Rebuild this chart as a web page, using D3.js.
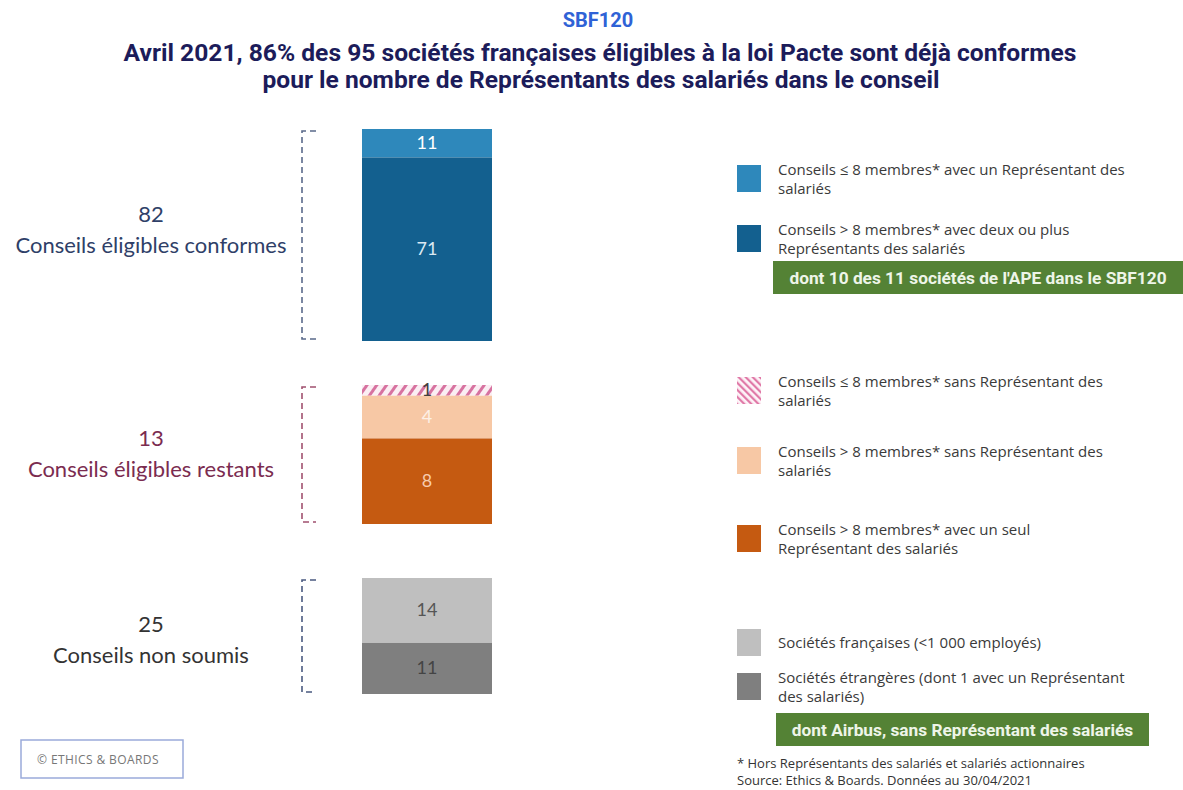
<!DOCTYPE html>
<html lang="fr">
<head>
<meta charset="utf-8">
<script src="https://cdn.jsdelivr.net/npm/d3@7"></script>
<style>
  body { margin: 0; background: #fff; }
  svg { display: block; }
</style>
</head>
<body>
<svg id="chart"></svg>
<script>
// ---- data ----
var groupTotals = [82, 13, 25];
var groupNames = ["Conseils éligibles conformes", "Conseils éligibles restants", "Conseils non soumis"];
var segValues = [[11, 71], [1, 4, 8], [14, 11]];
var segKeys = [["petitAvec", "grandDeux"], ["petitSans", "grandSans", "grandUn"], ["francaises", "etrangeres"]];
var legendKeys = ["petitAvec", "grandDeux", "petitSans", "grandSans", "grandUn", "francaises", "etrangeres"];
var legendLabels = [
  ["Conseils \u2264 8 membres* avec un Représentant des", "salariés"],
  ["Conseils > 8 membres* avec deux ou plus", "Représentants des salariés"],
  ["Conseils \u2264 8 membres* sans Représentant des", "salariés"],
  ["Conseils > 8 membres* sans Représentant des", "salariés"],
  ["Conseils > 8 membres* avec un seul", "Représentant des salariés"],
  ["Sociétés françaises (<1 000 employés)"],
  ["Sociétés étrangères (dont 1 avec un Représentant", "des salariés)"]
];
var notes = ["dont 10 des 11 sociétés de l'APE dans le SBF120", "dont Airbus, sans Représentant des salariés"];

// ---- styles ----
var width = 1183, height = 790;
var colors = {
  petitAvec: "#2e88bb", grandDeux: "#13608f",
  petitSans: "url(#hatchBar)", grandSans: "#f7c8a5", grandUn: "#c55a11",
  francaises: "#bfbfbf", etrangeres: "#7f7f7f"
};
var valueColors = {
  petitAvec: "#ffffff", grandDeux: "#dbe9f3",
  petitSans: "#404040", grandSans: "#fdf0e6", grandUn: "#f8cbad",
  francaises: "#555555", etrangeres: "#444444"
};
var groupColors = ["#2f3f68", "#7b2c50", "#333333"];
var bracketColors = ["#5a6a8a", "#a0506f", "#4a5a80"];

// vertical extent of each bar block on the page
var groupTop = [129, 385, 578];
var groupBottom = [341, 524, 694];
// legend row tops
var legendTop = [165, 225, 377, 447, 525, 629, 673];

var svg = d3.select("#chart").attr("width", width).attr("height", height)
  .style("font-family", "Roboto, 'Liberation Sans', sans-serif");

var defs = svg.append("defs");
var hb = defs.append("pattern").attr("id", "hatchBar")
  .attr("patternUnits", "userSpaceOnUse").attr("width", 8).attr("height", 8)
  .attr("patternTransform", "rotate(35)");
hb.append("rect").attr("width", 8).attr("height", 8).attr("fill", "#fbeef3");
hb.append("rect").attr("width", 3).attr("height", 8).attr("fill", "#d772a0");
var hl = defs.append("pattern").attr("id", "hatchLeg")
  .attr("patternUnits", "userSpaceOnUse").attr("width", 5).attr("height", 5)
  .attr("patternTransform", "rotate(-45)");
hl.append("rect").attr("width", 5).attr("height", 5).attr("fill", "#fdf3f7");
hl.append("rect").attr("width", 2.2).attr("height", 5).attr("fill", "#e07aa8");

// title
svg.append("text").attr("x", 598).attr("y", 27).attr("text-anchor", "middle")
  .attr("font-size", 20).attr("font-weight", 700).attr("fill", "#2f62d6").text("SBF120");
svg.append("text").attr("x", 600).attr("y", 61).attr("text-anchor", "middle")
  .attr("font-size", 23).attr("font-weight", 700).attr("fill", "#1c1c5a")
  .attr("textLength", 953).attr("lengthAdjust", "spacingAndGlyphs")
  .text("Avril 2021, 86% des 95 sociétés françaises éligibles à la loi Pacte sont déjà conformes");
svg.append("text").attr("x", 601).attr("y", 88).attr("text-anchor", "middle")
  .attr("font-size", 23).attr("font-weight", 700).attr("fill", "#1c1c5a")
  .attr("textLength", 677).attr("lengthAdjust", "spacingAndGlyphs")
  .text("pour le nombre de Représentants des salariés dans le conseil");

// bars
var xBand = d3.scaleBand().domain(["bar"]).range([362, 492]);

groupTotals.forEach(function(total, gi) {
  var y = d3.scaleLinear().domain([0, total]).range([groupTop[gi], groupBottom[gi]]);
  var stackData = [];
  var acc = 0;
  segValues[gi].forEach(function(v, si) {
    stackData.push({ key: segKeys[gi][si], v: v, y0: acc, y1: acc + v });
    acc += v;
  });
  var g = svg.append("g");
  g.selectAll("rect").data(stackData).enter().append("rect")
    .attr("x", xBand("bar")).attr("width", xBand.bandwidth())
    .attr("y", function(d) { return y(d.y0); })
    .attr("height", function(d) { return y(d.y1) - y(d.y0); })
    .attr("fill", function(d) { return colors[d.key]; });
  g.selectAll("text").data(stackData).enter().append("text")
    .attr("x", xBand("bar") + xBand.bandwidth() / 2)
    .attr("y", function(d) { return (y(d.y0) + y(d.y1)) / 2 + 6; })
    .attr("text-anchor", "middle")
    .attr("font-family", "Lato, 'Open Sans', sans-serif")
    .attr("font-size", 18)
    .attr("fill", function(d) { return valueColors[d.key]; })
    .text(function(d) { return d.v; });

  // dashed bracket
  var bx = 302, t = y(0) + 2, b = y(total) - 2;
  g.append("path")
    .attr("d", "M" + (bx + 14) + "," + t + "H" + bx + "V" + b + "H" + (bx + 14))
    .attr("fill", "none").attr("stroke", bracketColors[gi]).attr("stroke-width", 1.6)
    .attr("stroke-dasharray", "6,4");

  // group label
  var cy = (groupTop[gi] + groupBottom[gi]) / 2;
  if (gi === 0) cy = 231;
  if (gi === 2) cy = 641;
  var lab = g.append("text").attr("x", 150).attr("text-anchor", "middle")
    .attr("font-family", "Lato, 'Open Sans', sans-serif").attr("font-size", 22)
    .attr("fill", groupColors[gi]);
  lab.append("tspan").attr("x", 151).attr("y", cy - 9).text(total);
  lab.append("tspan").attr("x", 151).attr("y", cy + 22).text(groupNames[gi]);
});

// legend
var leg = svg.append("g").selectAll("g").data(legendKeys).enter().append("g")
  .attr("transform", function(d, i) { return "translate(737," + legendTop[i] + ")"; });
leg.append("rect").attr("width", 24).attr("height", 27)
  .attr("fill", function(d) { return d === "petitSans" ? "url(#hatchLeg)" : colors[d]; });
leg.append("text")
  .attr("font-family", "'Open Sans', sans-serif")
  .attr("font-size", 15).attr("fill", "#3a3a3a")
  .each(function(d, i) {
    var lines = legendLabels[i];
    var t = d3.select(this);
    var y0 = lines.length === 1 ? 19 : 10;
    lines.forEach(function(l, j) {
      t.append("tspan").attr("x", 41).attr("y", y0 + j * 19).text(l);
    });
  });

// green notes
var noteBoxes = [{ x: 773, y: 261, w: 410, h: 33 }, { x: 776, y: 713, w: 373, h: 33 }];
noteBoxes.forEach(function(bx, i) {
  svg.append("rect").attr("x", bx.x).attr("y", bx.y).attr("width", bx.w).attr("height", bx.h)
    .attr("fill", "#548235");
  svg.append("text").attr("x", bx.x + bx.w / 2).attr("y", bx.y + 23)
    .attr("text-anchor", "middle").attr("font-size", 17.3).attr("font-weight", 700)
    .attr("fill", "#eef5e8").text(notes[i]);
});

// footnotes
svg.append("text").attr("x", 737).attr("y", 768).attr("font-family", "'Open Sans', sans-serif")
  .attr("font-size", 13).attr("fill", "#333")
  .text("* Hors Représentants des salariés et salariés actionnaires");
svg.append("text").attr("x", 737).attr("y", 785).attr("font-family", "'Open Sans', sans-serif")
  .attr("font-size", 13).attr("fill", "#333")
  .text("Source: Ethics & Boards. Données au 30/04/2021");

// copyright box
svg.append("rect").attr("x", 21).attr("y", 740).attr("width", 162).attr("height", 38)
  .attr("fill", "#fff").attr("stroke", "#9aaada").attr("stroke-width", 1.5);
svg.append("text").attr("x", 37).attr("y", 764).attr("font-family", "'Open Sans', sans-serif")
  .attr("font-size", 12).attr("letter-spacing", 0.4).attr("fill", "#777")
  .text("© ETHICS & BOARDS");
</script>
</body>
</html>
